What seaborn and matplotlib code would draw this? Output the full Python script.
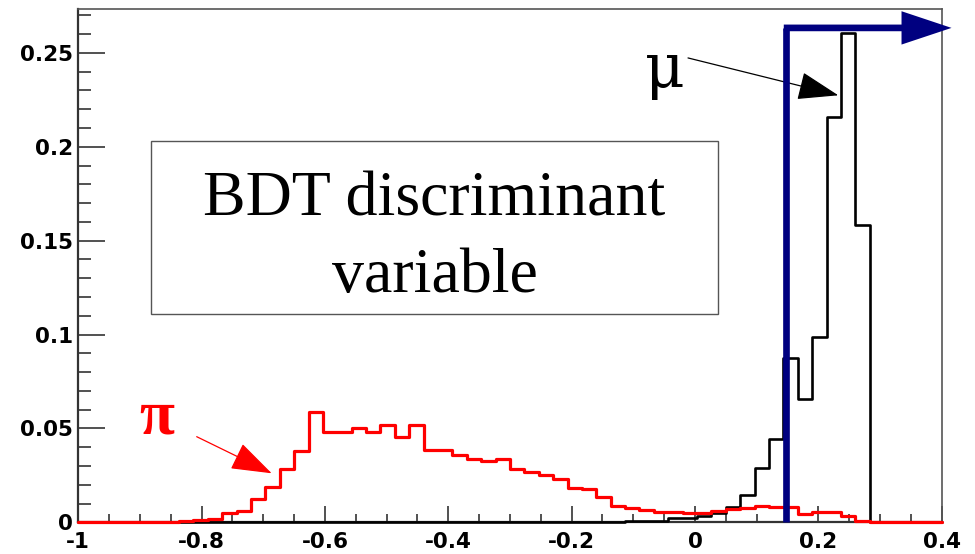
import numpy as np
import pandas as pd
import matplotlib
matplotlib.use("Agg")
import matplotlib.pyplot as plt
import seaborn as sns
from matplotlib.ticker import MultipleLocator
from matplotlib.patches import Rectangle

# ---------------- data ----------------
x_min, x_max, n_bins = -1.0, 0.4, 60

pi_values = [0, 0, 0, 0, 0, 0, 0, 0.0006, 0.0011, 0.002,
             0.0048, 0.006, 0.0125, 0.019, 0.0284, 0.038, 0.0588, 0.048, 0.048, 0.0500,
             0.048, 0.052, 0.0456, 0.052, 0.0385, 0.0385, 0.0357, 0.0337, 0.0328, 0.0336,
             0.0283, 0.027, 0.0254, 0.0232, 0.0184, 0.0176, 0.0135, 0.0087, 0.0075, 0.0066,
             0.0057, 0.0057, 0.0048, 0.0048, 0.006, 0.0069, 0.0075, 0.0087, 0.008, 0.0082,
             0.0046, 0.0053, 0.0053, 0.0034, 0.0005, 0, 0, 0, 0, 0]

mu_values = [0, 0, 0, 0, 0, 0, 0, 0, 0, 0,
             0, 0, 0, 0, 0, 0, 0, 0, 0, 0,
             0, 0, 0, 0, 0, 0, 0, 0, 0, 0,
             0, 0, 0, 0, 0, 0, 0, 0, 0.0008, 0.0008,
             0.0008, 0.0021, 0.0021, 0.0034, 0.0051, 0.0083, 0.0145, 0.029, 0.0442, 0.0874,
             0.0656, 0.0989, 0.2157, 0.2607, 0.1585, 0, 0, 0, 0, 0]

cut_value = 0.148
cut_top = 0.2633
cut_arrow_tip = 0.416

x_ticks = [-1, -0.8, -0.6, -0.4, -0.2, 0, 0.2, 0.4]
x_tick_labels = ["-1", "-0.8", "-0.6", "-0.4", "-0.2", "0", "0.2", "0.4"]
y_ticks = [0, 0.05, 0.1, 0.15, 0.2, 0.25]
y_tick_labels = ["0", "0.05", "0.1", "0.15", "0.2", "0.25"]
box_lines = ["BDT discriminant", "variable"]
mu_label = "\u03bc"
pi_label = "\u03c0"

# ---------------- build ----------------
edges = np.linspace(x_min, x_max, n_bins + 1)
centers = 0.5 * (edges[:-1] + edges[1:])
df = pd.DataFrame({
    "bdt": np.concatenate([centers, centers]),
    "weight": mu_values + pi_values,
    "particle": ["mu"] * n_bins + ["pi"] * n_bins,
})
bin_edges = [float(e) for e in edges]

sns.set_style("ticks")
plt.rcParams["axes.unicode_minus"] = False

fig = plt.figure(figsize=(9.75, 5.54), dpi=100)
ax = fig.add_axes([0.0803, 0.0572, 0.8855, 0.926])

sns.histplot(data=df[df.particle == "mu"], x="bdt", weights="weight", bins=bin_edges,
             element="step", fill=False, color="black", linewidth=1.9, ax=ax)
sns.histplot(data=df[df.particle == "pi"], x="bdt", weights="weight", bins=bin_edges,
             element="step", fill=False, color="#ff0000", linewidth=2.3, ax=ax)
for ln, z in zip(ax.lines, [3.0, 3.2]):
    ln.set_clip_on(False)
    ln.set_zorder(z)

ax.set_xlim(x_min, x_max)
ax.set_ylim(0, 0.2732)
ax.set_xlabel("")
ax.set_ylabel("")

ax.set_xticks(x_ticks, x_tick_labels)
ax.set_yticks(y_ticks, y_tick_labels)
ax.xaxis.set_minor_locator(MultipleLocator(0.05))
ax.yaxis.set_minor_locator(MultipleLocator(0.01))
ax.tick_params(axis="both", which="both", direction="in", color="#222222", width=1.1,
               top=False, right=False)
ax.tick_params(axis="y", which="major", length=19.5, pad=4)
ax.tick_params(axis="y", which="minor", length=9.5)
ax.tick_params(axis="x", which="major", length=11.5, pad=7)
ax.tick_params(axis="x", which="minor", length=5.5)
for lab in ax.get_xticklabels() + ax.get_yticklabels():
    lab.set_fontfamily("DejaVu Sans")
    lab.set_fontweight("bold")
    lab.set_fontsize(15.5)
    lab.set_color("black")

for side in ["left", "bottom"]:
    ax.spines[side].set_color("#333333")
    ax.spines[side].set_linewidth(1.6)
for side in ["top", "right"]:
    ax.spines[side].set_color("#555555")
    ax.spines[side].set_linewidth(1.2)

# text box
ax.add_patch(Rectangle((0.0842, 0.4064), 0.6571, 0.3363, transform=ax.transAxes,
                       fill=False, ec="#555555", lw=1.0, zorder=4))
ax.text(0.4127, 0.598, box_lines[0], transform=ax.transAxes, ha="center", va="baseline",
        fontsize=46, family="Liberation Serif", color="black", zorder=5)
ax.text(0.4127, 0.448, box_lines[1], transform=ax.transAxes, ha="center", va="baseline",
        fontsize=46, family="Liberation Serif", color="black", zorder=5)

# particle labels with arrows
ax.text(0.6795, 0.8486, mu_label, transform=ax.transAxes, ha="center", va="baseline",
        fontsize=44, family="DejaVu Serif", color="black", zorder=5)
ax.annotate("", xy=(0.2324, 0.2274), xytext=(-0.0113, 0.2473),
            arrowprops=dict(arrowstyle="-|>,head_length=1.3,head_width=0.45",
                            mutation_scale=20, lw=0.9, color="black",
                            shrinkA=0, shrinkB=0), zorder=6)

ax.text(0.0912, 0.174, pi_label, transform=ax.transAxes, ha="center", va="baseline",
        fontsize=46, family="Liberation Serif", fontweight="bold", color="#ff0000", zorder=5)
ax.annotate("", xy=(-0.6864, 0.0261), xytext=(-0.808, 0.0456),
            arrowprops=dict(arrowstyle="-|>,head_length=1.3,head_width=0.45",
                            mutation_scale=20, lw=0.9, color="#ff0000",
                            shrinkA=0, shrinkB=0), zorder=6)

# cut line with arrow
navy = "#000080"
ax.plot([cut_value, cut_value], [0.0, cut_top], color=navy, lw=4.8,
        solid_capstyle="butt", clip_on=False, zorder=7)
ax.annotate("", xy=(cut_arrow_tip, cut_top), xytext=(cut_value - 0.004, cut_top),
            arrowprops=dict(arrowstyle="simple,head_length=3.6,head_width=2.4,tail_width=0.48",
                            mutation_scale=10, fc=navy, ec="none", lw=0,
                            shrinkA=0, shrinkB=0),
            annotation_clip=False, zorder=7)

fig.savefig("out.png", dpi=100)
